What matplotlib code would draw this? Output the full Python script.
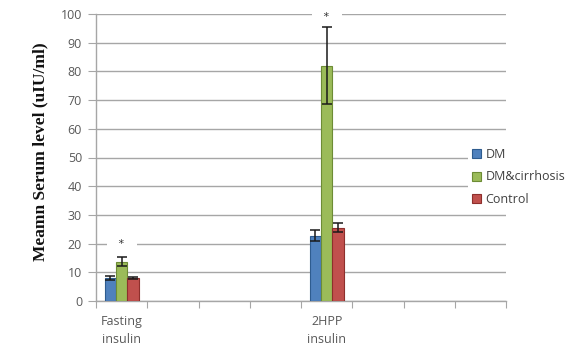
import numpy as np
import matplotlib
matplotlib.use("Agg")
import matplotlib.pyplot as plt

# Excel-style chart: 8 category slots, only two are filled
categories = ["Fasting\ninsulin", "", "", "", "2HPP\ninsulin", "", "", ""]
series_names = ["DM", "DM&cirrhosis", "Control"]
dm = [8.0, np.nan, np.nan, np.nan, 22.8, np.nan, np.nan, np.nan]
dm_cirrhosis = [13.7, np.nan, np.nan, np.nan, 82.0, np.nan, np.nan, np.nan]
control = [8.0, np.nan, np.nan, np.nan, 25.6, np.nan, np.nan, np.nan]
dm_err = [0.6, np.nan, np.nan, np.nan, 1.8, np.nan, np.nan, np.nan]
dm_cirrhosis_err = [1.6, np.nan, np.nan, np.nan, 13.5, np.nan, np.nan, np.nan]
control_err = [0.5, np.nan, np.nan, np.nan, 1.7, np.nan, np.nan, np.nan]
star_y = [20, np.nan, np.nan, np.nan, 99, np.nan, np.nan, np.nan]

COLORS = ["#4F81BD", "#9BBB59", "#C0504D"]
EDGES = ["#2E5C8F", "#6D8C35", "#8E2F2C"]
GRAY = "#595959"

fig = plt.figure(figsize=(5.70, 3.52), dpi=100)
ax = fig.add_axes([96 / 570, 1 - 301 / 352, 410 / 570, 287 / 352])

x = np.arange(len(categories))
width = 0.22
values = [dm, dm_cirrhosis, control]
errors = [dm_err, dm_cirrhosis_err, control_err]
for i, (vals, errs) in enumerate(zip(values, errors)):
    pos = x + (i - 1) * width
    ax.bar(pos, vals, width=width, color=COLORS[i], edgecolor=EDGES[i],
           linewidth=0.8, label=series_names[i], zorder=3)
    ax.errorbar(pos, vals, yerr=errs, fmt="none", ecolor="#1a1a1a",
                elinewidth=1.1, capsize=3.5, capthick=1.1, zorder=4)

for xi, sy in zip(x, star_y):
    if not np.isnan(sy):
        ax.text(xi, sy, "   *   ", ha="center", va="center", fontsize=8,
                color="#333333", zorder=2,
                bbox=dict(boxstyle="square,pad=0.15", fc="white", ec="none"))

ax.set_xlim(-0.5, len(categories) - 0.5)
ax.set_ylim(0, 100)
ax.set_yticks(np.arange(0, 101, 10))
ax.yaxis.grid(True, color="#A6A6A6", linewidth=1.0, zorder=0)
ax.set_axisbelow(True)

ax.set_xticks(np.arange(-0.5, len(categories), 1.0))
ax.set_xticklabels([])
ax.set_xticks(x, minor=True)
ax.set_xticklabels(categories, minor=True, fontsize=9, color=GRAY,
                   family="Open Sans", linespacing=1.5)
ax.tick_params(axis="x", which="minor", length=0, pad=10)
ax.tick_params(axis="x", which="major", length=5, color="#A6A6A6", direction="out")
ax.tick_params(axis="y", length=6, color="#A6A6A6", direction="out",
               labelsize=9, labelcolor=GRAY, pad=4)
for lab in ax.get_yticklabels():
    lab.set_family("Open Sans")

for side in ["top", "right"]:
    ax.spines[side].set_visible(False)
for side in ["left", "bottom"]:
    ax.spines[side].set_color("#A6A6A6")
    ax.spines[side].set_linewidth(1.0)

fig.text(40 / 570, 1 - 152 / 352, "Meamn Serum level (uIU/ml)", rotation=90,
         ha="center", va="center", fontsize=12.5, fontweight="bold",
         family="Liberation Serif", color="#111111")

leg = fig.legend(loc="center left", bbox_to_anchor=(462 / 570, 1 - 177 / 352),
                 frameon=True, fontsize=9, handlelength=0.7, handleheight=0.7,
                 handletextpad=0.4, labelspacing=0.75, borderpad=0.3,
                 prop={"family": "Open Sans", "size": 9})
leg.get_frame().set_facecolor("white")
leg.get_frame().set_edgecolor("none")
leg.get_frame().set_alpha(1)
for t in leg.get_texts():
    t.set_color("#404040")

fig.savefig("out.png", dpi=100)
